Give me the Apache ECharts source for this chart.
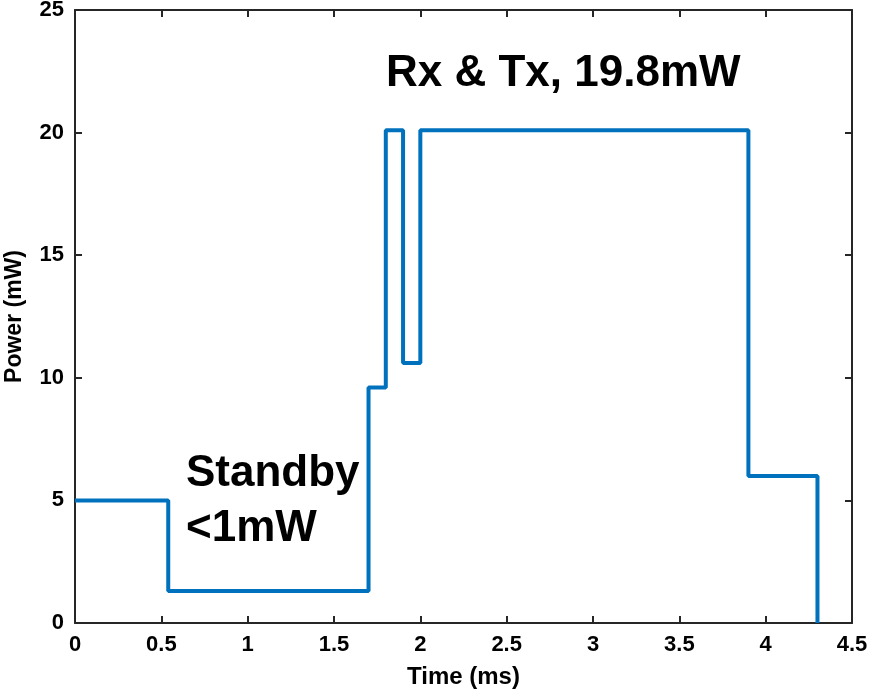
<!DOCTYPE html>
<html>
<head>
<meta charset="utf-8">
<script src="https://cdn.jsdelivr.net/npm/echarts@6/dist/echarts.min.js"></script>
<style>
  html, body { margin: 0; padding: 0; background: #fff; }
  #chart { width: 869px; height: 691px; }
</style>
</head>
<body>
<div id="chart"></div>
<script>
// step points: the level holds until the next time, then jumps
const timeMs = [0, 0.54, 1.7, 1.8, 1.9, 2.0, 3.9, 4.3];
const powerMw = [5, 1.3, 9.6, 20.1, 10.6, 20.1, 6.0, 0];
const noteTop = 'Rx & Tx, 19.8mW';
const noteStandby = ['Standby', '<1mW'];

const font = '"Liberation Sans", Arial, sans-serif';
const axisColor = '#262626';

const chart = echarts.init(document.getElementById('chart'));

let points = timeMs.map((t, i) => [t, powerMw[i]]);

function boxAxis(min, max, step, pos, showLabel, name, gap, nameSize) {
    return {
        type: 'value',
        min: min,
        max: max,
        interval: step,
        position: pos,
        name: name,
        nameLocation: 'middle',
        nameGap: gap,
        nameTextStyle: { fontFamily: font, fontWeight: 'bold', fontSize: nameSize, color: '#000' },
        axisLine: { show: true, onZero: false, lineStyle: { color: axisColor, width: 2 } },
        axisTick: { show: true, inside: true, length: 7, lineStyle: { color: axisColor, width: 2 } },
        axisLabel: {
            show: showLabel,
            margin: 11,
            fontFamily: font,
            fontWeight: 'bold',
            fontSize: 22,
            color: '#000'
        },
        splitLine: { show: false }
    };
}

let option = {
    animation: false,
    backgroundColor: '#fff',
    grid: { left: 75, right: 17, top: 10, bottom: 68, containLabel: false, outerBoundsMode: 'none' },
    xAxis: [
        boxAxis(0, 4.5, 0.5, 'bottom', true, 'Time (ms)', 42, 24),
        boxAxis(0, 4.5, 0.5, 'top', false, '', 0, 12)
    ],
    yAxis: [
        boxAxis(0, 25, 5, 'left', true, 'Power (mW)', 49, 23),
        boxAxis(0, 25, 5, 'right', false, '', 0, 12)
    ],
    series: [{
        type: 'line',
        step: 'end',
        data: points,
        showSymbol: false,
        lineStyle: { color: '#0072BD', width: 4 }
    }],
    graphic: [
        {
            type: 'text',
            left: 386,
            top: 52,
            style: { text: noteTop, font: 'bold 44px ' + font, fill: '#000' }
        },
        {
            type: 'text',
            left: 186,
            top: 446,
            style: { text: noteStandby.join('\n'), font: 'bold 44px ' + font, fill: '#000', lineHeight: 55 }
        }
    ]
};

chart.setOption(option);
</script>
</body>
</html>
